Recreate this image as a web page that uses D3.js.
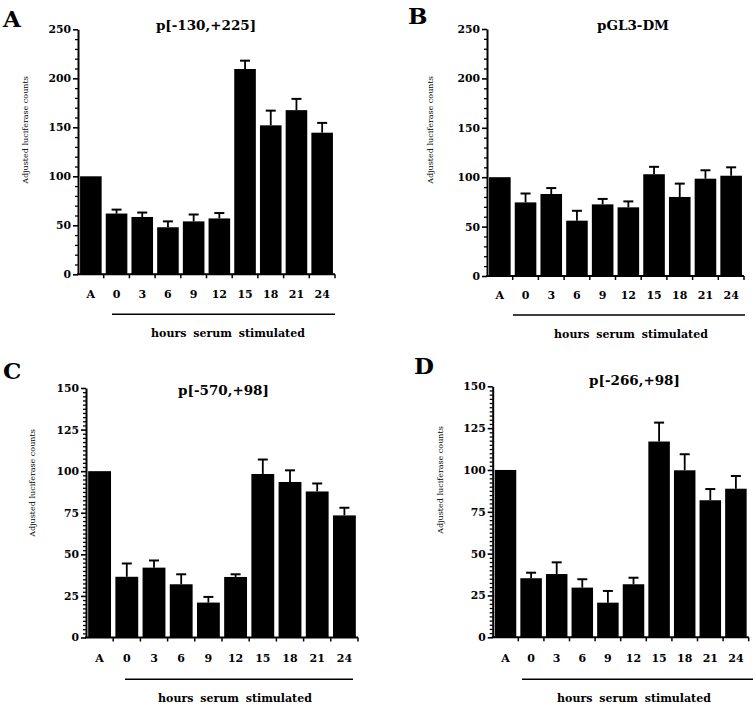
<!DOCTYPE html>
<html><head><meta charset="utf-8">
<script src="https://cdn.jsdelivr.net/npm/d3@7"></script>
<style>body{margin:0;background:#fff}svg{display:block}</style>
</head><body><svg id="c" width="756" height="705"></svg>
<script>
// ---------- DATA ----------
const categories = ["A","0","3","6","9","12","15","18","21","24"];
const panelLetters = ["A","B","C","D"];
const panelTitles = ["p[-130,+225]","pGL3-DM","p[-570,+98]","p[-266,+98]"];
const valuesA = [100, 62, 58.5, 48, 54, 57, 209.5, 152, 167.5, 144.5];
const errorsA = [0, 4, 4.5, 6, 7, 5.5, 8.5, 15, 11.5, 10];
const valuesB = [100, 74.5, 83, 56, 72.5, 69.5, 103, 80, 98.5, 101.5];
const errorsB = [0, 9, 6, 10, 5.5, 6, 7.5, 13.5, 8.5, 8.5];
const valuesC = [100, 36.5, 42, 32, 21, 36.4, 98.3, 93.5, 87.8, 73.4];
const errorsC = [0, 8, 4.3, 6, 3.4, 1.6, 8.7, 7, 4.8, 4.6];
const valuesD = [100, 35.3, 37.8, 29.7, 20.7, 31.7, 117, 99.8, 81.9, 88.8];
const errorsD = [0, 3.3, 7, 5, 7, 3.9, 11.3, 9.6, 6.7, 7.6];
const yTicksAB = [0, 50, 100, 150, 200, 250];
const yTicksCD = [0, 25, 50, 75, 100, 125, 150];
const yMinorStepAB = 10;
const yMinorStepCD = 2.5;
const yAxisTitle = "Adjusted luciferase counts";
const xAxisTitle = "hours serum stimulated";

// ---------- LAYOUT ----------
const layout = [
  {x0:78,  x1:335, yb:274.3, yt:29.3, letter:[3,27],    title:[206,30],   ylab:[27.5,130], lineX0:112, lineX1:335, lineY:314.3, xlabDy:23.4, hoursX:228, hoursY:337},
  {x0:487, x1:744, yb:276,   yt:29,   letter:[408,24],  title:[633,30],   ylab:[433,130],  lineX0:513, lineX1:745, lineY:315,   xlabDy:23.3, hoursX:631, hoursY:338},
  {x0:86,  x1:358, yb:637.5, yt:388,  letter:[3,379],   title:[223.5,395],ylab:[35,483],   lineX0:125, lineX1:353, lineY:679.3, xlabDy:24.2, hoursX:235, hoursY:701.7},
  {x0:492.7,x1:748.7,yb:637.3,yt:386.3,letter:[414,374], title:[634.5,385],ylab:[443,480], lineX0:522, lineX1:753, lineY:679.3, xlabDy:24.4, hoursX:634, hoursY:701.7}
];
const panelValues = [valuesA, valuesB, valuesC, valuesD];
const panelErrors = [errorsA, errorsB, errorsC, errorsD];
const panelTicks = [yTicksAB, yTicksAB, yTicksCD, yTicksCD];
const panelMinor = [yMinorStepAB, yMinorStepAB, yMinorStepCD, yMinorStepCD];

const svg = d3.select("#c");
const SERIF = "'DejaVu Serif', serif";

layout.forEach((L, i) => {
  const vals = panelValues[i], errs = panelErrors[i], ticks = panelTicks[i];
  const yMax = ticks[ticks.length - 1];
  const y = d3.scaleLinear().domain([0, yMax]).range([L.yb, L.yt]);
  const x = d3.scaleBand().domain(categories).range([L.x0, L.x1]).paddingInner(0.16).paddingOuter(0.08);
  const g = svg.append("g");

  // bars
  g.selectAll("rect.bar").data(categories).enter().append("rect")
    .attr("x", d => x(d)).attr("width", x.bandwidth())
    .attr("y", (d, j) => y(vals[j])).attr("height", (d, j) => y(0) - y(vals[j]))
    .attr("fill", "#000");

  // error bars
  const eb = categories.map((d, j) => ({d, v: vals[j], e: errs[j]})).filter(o => o.e > 0);
  const cx = d => x(d) + x.bandwidth() / 2;
  g.selectAll("line.err").data(eb).enter().append("line")
    .attr("x1", o => cx(o.d)).attr("x2", o => cx(o.d))
    .attr("y1", o => y(o.v)).attr("y2", o => y(o.v + o.e))
    .attr("stroke", "#000").attr("stroke-width", 1.8);
  g.selectAll("line.cap").data(eb).enter().append("line")
    .attr("x1", o => cx(o.d) - 5).attr("x2", o => cx(o.d) + 5)
    .attr("y1", o => y(o.v + o.e)).attr("y2", o => y(o.v + o.e))
    .attr("stroke", "#000").attr("stroke-width", 2);

  // y axis (major)
  const yAxis = d3.axisLeft(y).tickValues(ticks).tickSize(5).tickSizeOuter(0).tickPadding(2).tickFormat(d3.format("d"));
  const ya = g.append("g").attr("transform", `translate(${L.x0},0)`).call(yAxis);
  ya.select(".domain").attr("stroke-width", 2);
  ya.selectAll(".tick line").attr("stroke-width", 1.6);
  ya.selectAll(".tick text").attr("font-family", SERIF).attr("font-weight", "bold").attr("font-size", "10.8px").attr("fill", "#000");
  // minor ticks
  const minors = d3.range(0, yMax + 1e-6, panelMinor[i]).filter(v => !ticks.includes(v));
  const yMinor = d3.axisLeft(y).tickValues(minors).tickSize(3).tickSizeOuter(0).tickFormat("");
  const ym = g.append("g").attr("transform", `translate(${L.x0},0)`).call(yMinor);
  ym.select(".domain").remove();
  ym.selectAll(".tick line").attr("stroke-width", 1.3);

  // x axis line with boundary ticks
  g.append("line").attr("x1", L.x0 - 1).attr("x2", L.x1).attr("y1", y(0)).attr("y2", y(0))
    .attr("stroke", "#000").attr("stroke-width", 2);
  const step = x.step();
  const bounds = categories.map(d => x(d) + x.bandwidth() + step * 0.08);
  g.selectAll("line.xt").data(bounds).enter().append("line")
    .attr("x1", b => b).attr("x2", b => b).attr("y1", y(0)).attr("y2", y(0) + 4)
    .attr("stroke", "#000").attr("stroke-width", 1.5);

  // x labels
  g.selectAll("text.xl").data(categories).enter().append("text")
    .attr("x", d => cx(d)).attr("y", y(0) + L.xlabDy)
    .attr("text-anchor", "middle").attr("font-family", SERIF).attr("font-weight", "bold")
    .attr("font-size", "11px").text(d => d);

  // hours line and label
  g.append("line").attr("x1", L.lineX0).attr("x2", L.lineX1).attr("y1", L.lineY).attr("y2", L.lineY)
    .attr("stroke", "#000").attr("stroke-width", 1.6);
  g.append("text").attr("x", L.hoursX).attr("y", L.hoursY)
    .attr("text-anchor", "middle").attr("font-family", SERIF).attr("font-weight", "bold")
    .attr("font-size", "11px").attr("word-spacing", "3px").text(xAxisTitle);

  // y axis title
  g.append("text").attr("transform", `translate(${L.ylab[0]},${L.ylab[1]}) rotate(-90)`)
    .attr("text-anchor", "middle").attr("font-family", SERIF).attr("font-size", "8px")
    .text(yAxisTitle);

  // panel title
  g.append("text").attr("x", L.title[0]).attr("y", L.title[1]).attr("text-anchor", "middle")
    .attr("font-family", SERIF).attr("font-weight", "bold").attr("font-size", "13.5px").text(panelTitles[i]);

  // panel letter
  g.append("text").attr("x", L.letter[0]).attr("y", L.letter[1])
    .attr("font-family", SERIF).attr("font-weight", "bold").attr("font-size", "23px").text(panelLetters[i]);
});
</script>
</body></html>
